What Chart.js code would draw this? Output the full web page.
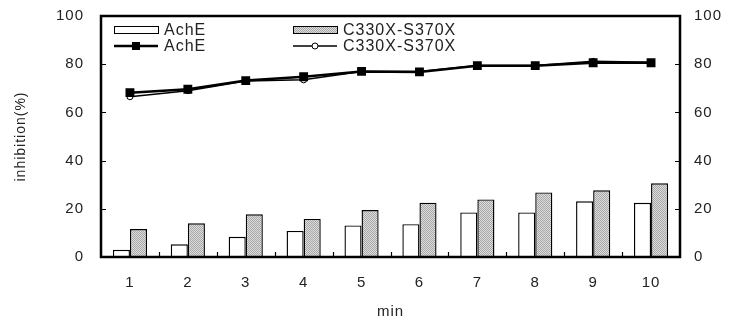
<!DOCTYPE html>
<html>
<head>
<meta charset="utf-8">
<script src="https://cdn.jsdelivr.net/npm/chart.js@4.4.1/dist/chart.umd.min.js"></script>
<style>
  html, body { margin: 0; padding: 0; background: #fff; }
  #wrap { width: 736px; height: 322px; }
</style>
</head>
<body>
<div id="wrap"><canvas id="c" width="736" height="322"></canvas></div>
<script>
// Time points (min) and inhibition values (%)
const categories = ['1', '2', '3', '4', '5', '6', '7', '8', '9', '10'];
const achEBars   = [3.0, 5.3, 8.4, 10.8, 13.1, 13.6, 18.5, 18.5, 23.1, 22.5];
const c330Bars   = [11.6, 14.0, 17.7, 15.8, 19.5, 22.5, 23.9, 26.8, 27.7, 30.6];
const achELine   = [68.2, 69.6, 73.2, 74.8, 77.0, 76.8, 79.4, 79.4, 80.6, 80.6];
const c330Line   = [66.5, 69.0, 73.0, 73.5, 77.0, 77.0, 79.5, 79.5, 81.2, 80.8];
const yTicks     = [0, 20, 40, 60, 80, 100];
const seriesNames = ['AchE', 'C330X-S370X'];

const FONT = '"Liberation Sans", Arial, sans-serif';
const TEXT = '#222222';

// fine stippled grey fill for the mutant bars
function makeStipple() {
  const p = document.createElement('canvas');
  p.width = 2; p.height = 2;
  const g = p.getContext('2d');
  g.fillStyle = '#dcdcdc';
  g.fillRect(0, 0, 2, 2);
  g.fillStyle = '#a8a8a8';
  g.fillRect(0, 0, 1, 1);
  g.fillRect(1, 1, 1, 1);
  return g.createPattern(p, 'repeat');
}
const ctx = document.getElementById('c').getContext('2d');
const stipple = makeStipple();

// frame, inward tick marks and the two-column legend
const decor = {
  id: 'decor',
  beforeDraw(chart) {
    chart.ctx.letterSpacing = '1px';
  },
  afterDatasetsDraw(chart) {
    const c = chart.ctx;
    const a = chart.chartArea;
    const x = chart.scales.x, y = chart.scales.y;
    c.save();
    c.strokeStyle = '#000';
    c.lineWidth = 1.2;
    // x ticks between categories, pointing up
    c.beginPath();
    for (let i = 0; i < categories.length - 1; i++) {
      const px = (x.getPixelForValue(i) + x.getPixelForValue(i + 1)) / 2;
      c.moveTo(Math.round(px) + 0.5, a.bottom);
      c.lineTo(Math.round(px) + 0.5, a.bottom - 5);
    }
    // y ticks on both sides, pointing inward
    yTicks.forEach(v => {
      const py = Math.round(y.getPixelForValue(v)) + 0.5;
      c.moveTo(a.left, py); c.lineTo(a.left + 5, py);
      c.moveTo(a.right, py); c.lineTo(a.right - 5, py);
    });
    c.stroke();
    // frame
    c.lineWidth = 2.5;
    c.strokeRect(a.left, a.top, a.right - a.left, a.bottom - a.top);

    // legend
    const rows = [a.top + 14, a.top + 30];
    const cols = [a.left + 13, a.left + 192];
    const symW = 44;
    c.font = '16px ' + FONT;
    c.letterSpacing = '1px';
    c.fillStyle = TEXT;
    c.textBaseline = 'middle';
    c.textAlign = 'left';
    // bar entries
    [[ '#ffffff', 0 ], [ stipple, 1 ]].forEach(([fill, k]) => {
      c.fillStyle = fill;
      c.fillRect(cols[k], rows[0] - 3.5, symW, 7);
      c.lineWidth = 1;
      c.strokeStyle = '#000';
      c.strokeRect(cols[k] + 0.5, rows[0] - 3.5, symW, 7);
      c.fillStyle = TEXT;
      c.fillText(seriesNames[k], cols[k] + symW + 6, rows[0] + 1);
    });
    // line entries
    [0, 1].forEach(k => {
      const yy = rows[1];
      c.strokeStyle = '#000';
      c.lineWidth = k === 0 ? 2.5 : 1.5;
      c.beginPath();
      c.moveTo(cols[k], yy); c.lineTo(cols[k] + symW, yy);
      c.stroke();
      const cx = cols[k] + symW / 2;
      if (k === 0) {
        c.fillStyle = '#000';
        c.fillRect(cx - 4, yy - 4, 8, 8);
      } else {
        c.fillStyle = '#fff';
        c.lineWidth = 1;
        c.beginPath(); c.arc(cx, yy, 3, 0, Math.PI * 2); c.fill(); c.stroke();
      }
      c.fillStyle = TEXT;
      c.fillText(seriesNames[k], cols[k] + symW + 6, yy + 1);
    });
    c.restore();
  }
};

const tickFont = { family: FONT, size: 15 };

// fixed axis widths; the frame's top edge is set by layout padding alone
function fitVertical(width) {
  return s => { s.width = width; s.paddingTop = 0; s.paddingBottom = 0; };
}

new Chart(ctx, {
  data: {
    labels: categories,
    datasets: [
      {
        type: 'line', label: seriesNames[0], data: achELine, order: 0,
        borderColor: '#000', borderWidth: 2.5, tension: 0,
        pointStyle: 'rect', pointRadius: 4.5, pointBackgroundColor: '#000',
        pointBorderColor: '#000', yAxisID: 'y'
      },
      {
        type: 'line', label: seriesNames[1], data: c330Line, order: 1,
        borderColor: '#000', borderWidth: 1.5, tension: 0,
        pointStyle: 'circle', pointRadius: 3, pointBackgroundColor: '#fff',
        pointBorderColor: '#000', pointBorderWidth: 1, yAxisID: 'y'
      },
      {
        type: 'bar', label: seriesNames[0], data: achEBars, order: 2,
        backgroundColor: '#ffffff', borderColor: '#000', borderWidth: 1.4,
        borderSkipped: 'bottom', categoryPercentage: 0.59, barPercentage: 1, yAxisID: 'y'
      },
      {
        type: 'bar', label: seriesNames[1], data: c330Bars, order: 2,
        backgroundColor: stipple, borderColor: '#000', borderWidth: 1.4,
        borderSkipped: 'bottom', categoryPercentage: 0.59, barPercentage: 1, yAxisID: 'y'
      }
    ]
  },
  options: {
    responsive: false,
    animation: false,
    devicePixelRatio: 1,
    layout: { padding: { top: 16, left: 0, right: 0, bottom: 0 } },
    plugins: { legend: { display: false }, tooltip: { enabled: false } },
    scales: {
      x: {
        type: 'category', offset: true,
        grid: { display: false, drawTicks: false },
        border: { display: false },
        ticks: { font: tickFont, color: TEXT, padding: 17 },
        title: { display: true, text: 'min', font: { family: FONT, size: 15 }, color: TEXT, padding: { top: 4, bottom: 1 } },
        afterFit(s) { s.height = 65; s.paddingLeft = 0; s.paddingRight = 0; }
      },
      y: {
        position: 'left', min: 0, max: 100,
        grid: { display: false, drawTicks: false },
        border: { display: false },
        ticks: { stepSize: 20, font: tickFont, color: TEXT, padding: 17 },
        title: { display: true, text: 'inhibition(%)', font: { family: FONT, size: 14 }, color: TEXT, padding: { top: 13 } },
        afterFit: fitVertical(101)
      },
      y2: {
        position: 'right', min: 0, max: 100,
        grid: { display: false, drawTicks: false },
        border: { display: false },
        ticks: { stepSize: 20, font: tickFont, color: TEXT, padding: 14 },
        afterFit: fitVertical(56)
      }
    }
  },
  plugins: [decor]
});
</script>
</body>
</html>
